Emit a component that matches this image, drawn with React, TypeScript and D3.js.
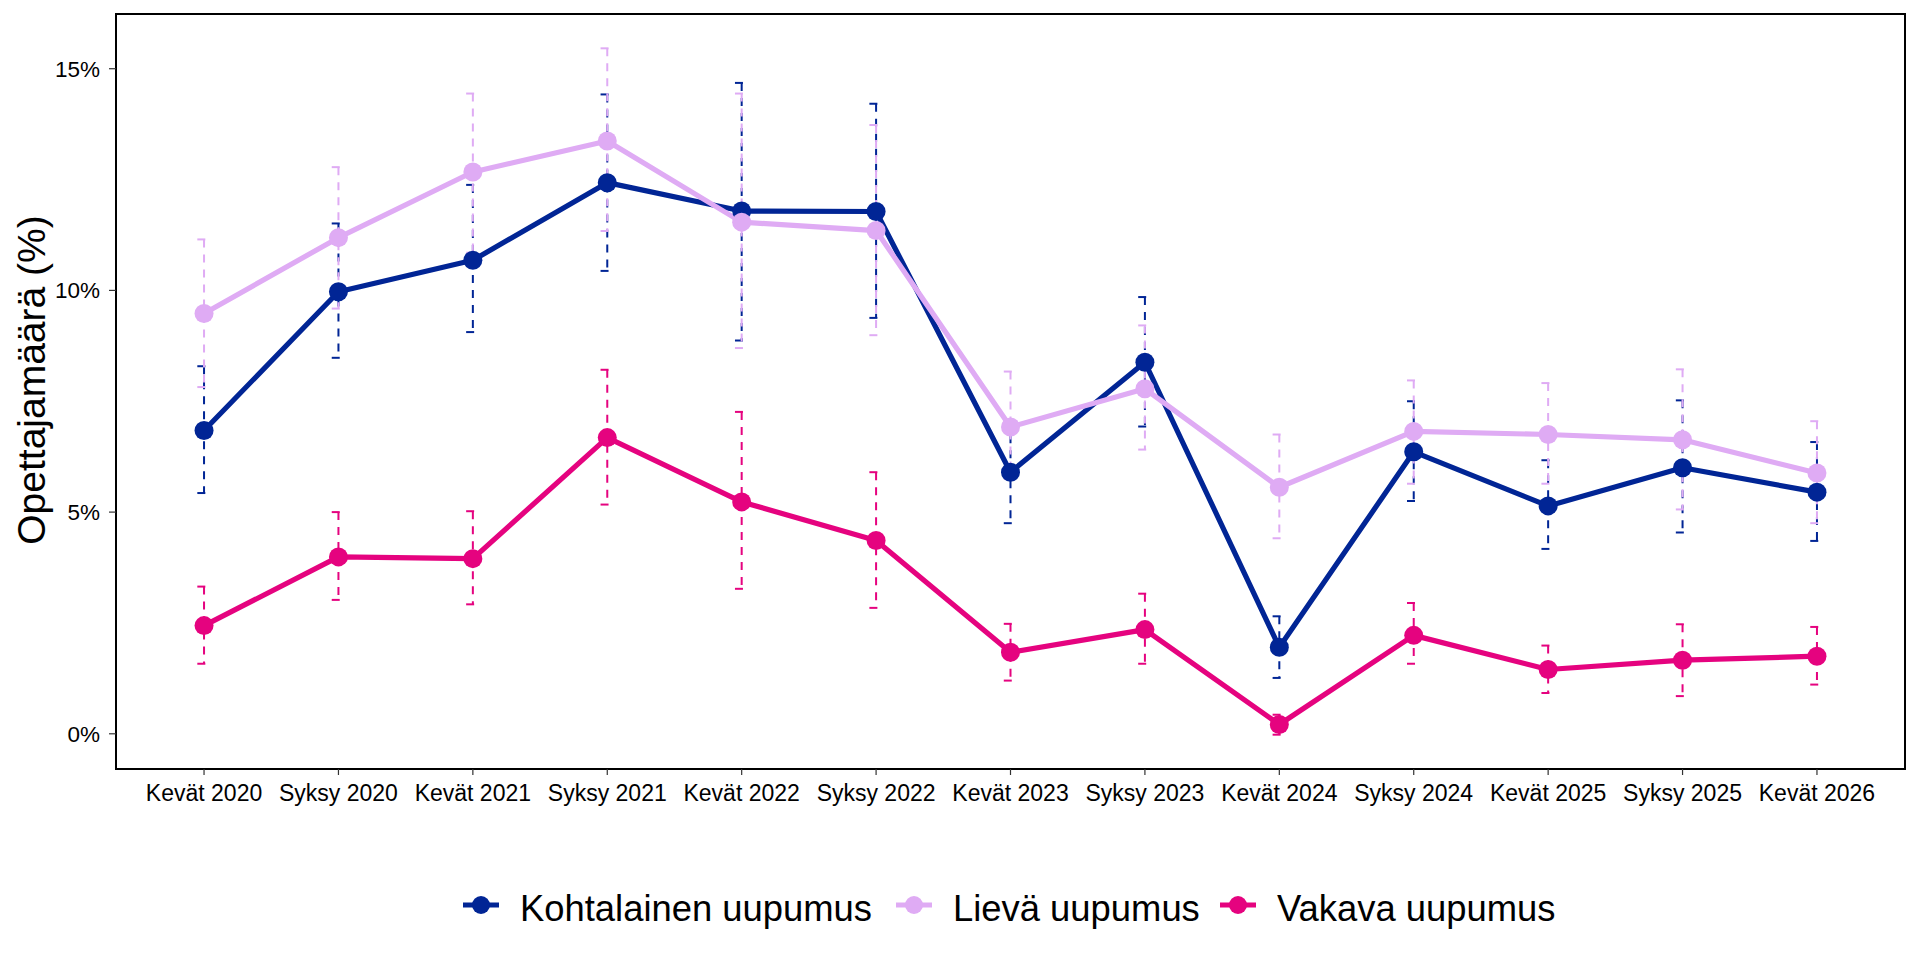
import React from "react";
import * as d3 from "d3";

// periods on the x axis
const periods = [
  "Kevät 2020", "Syksy 2020", "Kevät 2021", "Syksy 2021", "Kevät 2022",
  "Syksy 2022", "Kevät 2023", "Syksy 2023", "Kevät 2024", "Syksy 2024",
  "Kevät 2025", "Syksy 2025", "Kevät 2026",
];

const seriesNames = ["Kohtalainen uupumus", "Lievä uupumus", "Vakava uupumus"];
const seriesColors = ["#012595", "#DFABF4", "#E5037F"];

// values in % (estimate, lower CI, upper CI)
const kohtalainen = [6.84, 9.97, 10.68, 12.43, 11.79, 11.78, 5.9, 8.38, 1.95, 6.36, 5.14, 6.0, 5.45];
const kohtalainenLow = [5.43, 8.48, 9.06, 10.44, 8.87, 9.38, 4.75, 6.93, 1.26, 5.25, 4.17, 4.54, 4.35];
const kohtalainenHigh = [8.29, 11.51, 12.38, 14.42, 14.68, 14.21, 7.07, 9.85, 2.65, 7.5, 6.17, 7.52, 6.58];

const lieva = [9.48, 11.19, 12.67, 13.37, 11.54, 11.35, 6.92, 7.78, 5.56, 6.82, 6.75, 6.63, 5.88];
const lievaLow = [7.82, 9.59, 10.85, 11.34, 8.7, 8.99, 5.75, 6.41, 4.41, 5.64, 5.64, 5.06, 4.75];
const lievaHigh = [11.15, 12.78, 14.44, 15.46, 14.44, 13.73, 8.17, 9.21, 6.75, 7.97, 7.91, 8.22, 7.05];

const vakava = [2.44, 3.99, 3.95, 6.68, 5.23, 4.36, 1.84, 2.35, 0.21, 2.22, 1.45, 1.66, 1.75];
const vakavaLow = [1.58, 3.02, 2.92, 5.17, 3.27, 2.84, 1.2, 1.58, -0.02, 1.58, 0.92, 0.85, 1.11];
const vakavaHigh = [3.32, 5.0, 5.02, 8.21, 7.26, 5.9, 2.48, 3.16, 0.43, 2.95, 1.99, 2.47, 2.41];

const yTicks = [0, 5, 10, 15];

const W = 1920;
const H = 960;
const margin = { top: 14, right: 15, bottom: 191, left: 116 };
const FONT = "'Liberation Sans', Arial, sans-serif";

type Row = { period: string; value: number; low: number; high: number };

const series = [
  { values: kohtalainen, low: kohtalainenLow, high: kohtalainenHigh },
  { values: lieva, low: lievaLow, high: lievaHigh },
  { values: vakava, low: vakavaLow, high: vakavaHigh },
].map((s, i) => ({
  name: seriesNames[i],
  color: seriesColors[i],
  rows: periods.map((p, j) => ({ period: p, value: s.values[j], low: s.low[j], high: s.high[j] })) as Row[],
}));

// legend key centres (legend is centred below the panel)
const legendKeyX = [481, 914, 1238];

const App: React.FC = () => {
  const x = d3
    .scalePoint<string>()
    .domain(periods)
    .range([margin.left, W - margin.right])
    .padding(0.655);

  const allLow = d3.min(series, (s) => d3.min(s.rows, (r) => r.low)) ?? 0;
  const allHigh = d3.max(series, (s) => d3.max(s.rows, (r) => r.high)) ?? 1;
  const pad = (allHigh - allLow) * 0.05;
  const y = d3
    .scaleLinear()
    .domain([allLow - pad, allHigh + pad])
    .range([H - margin.bottom, margin.top]);

  const line = d3
    .line<Row>()
    .x((d) => x(d.period) ?? 0)
    .y((d) => y(d.value));

  const capHalf = x.step() * 0.05;
  const panelRight = W - margin.right;
  const panelBottom = H - margin.bottom;

  return (
    <svg
      width={W}
      height={H}
      style={{ position: "absolute", left: 0, top: 0, background: "#fff" }}
      fontFamily={FONT}
    >
      <rect x={0} y={0} width={W} height={H} fill="#fff" />

      {/* error bars */}
      {series.map((s) => (
        <g key={"eb" + s.name} stroke={s.color} strokeWidth={2} strokeDasharray="8 7" fill="none">
          {s.rows.map((r) => {
            const cx = x(r.period) ?? 0;
            return (
              <g key={r.period}>
                <line x1={cx - capHalf} x2={cx + capHalf} y1={y(r.high)} y2={y(r.high)} />
                <line x1={cx} x2={cx} y1={y(r.high)} y2={y(r.low)} />
                <line x1={cx - capHalf} x2={cx + capHalf} y1={y(r.low)} y2={y(r.low)} />
              </g>
            );
          })}
        </g>
      ))}

      {/* lines */}
      {series.map((s) => (
        <path
          key={"ln" + s.name}
          d={line(s.rows) ?? ""}
          fill="none"
          stroke={s.color}
          strokeWidth={5.2}
          strokeLinejoin="round"
        />
      ))}

      {/* points */}
      {series.map((s) => (
        <g key={"pt" + s.name} fill={s.color}>
          {s.rows.map((r) => (
            <circle key={r.period} cx={x(r.period)} cy={y(r.value)} r={9.5} />
          ))}
        </g>
      ))}

      {/* panel border */}
      <rect
        x={margin.left}
        y={margin.top}
        width={panelRight - margin.left}
        height={panelBottom - margin.top}
        fill="none"
        stroke="#000"
        strokeWidth={2}
      />

      {/* y axis */}
      {yTicks.map((t) => (
        <g key={"yt" + t}>
          <line x1={margin.left - 7} x2={margin.left} y1={y(t)} y2={y(t)} stroke="#333" strokeWidth={1.2} />
          <text x={margin.left - 16} y={y(t) + 8} textAnchor="end" fontSize={22.5} fill="#000">
            {t}%
          </text>
        </g>
      ))}
      <text
        transform={`translate(45,380) rotate(-90)`}
        textAnchor="middle"
        fontSize={39}
        fill="#000"
      >
        Opettajamäärä (%)
      </text>

      {/* x axis */}
      {periods.map((p) => (
        <g key={"xt" + p}>
          <line x1={x(p)} x2={x(p)} y1={panelBottom} y2={panelBottom + 6} stroke="#333" strokeWidth={1.2} />
          <text x={x(p)} y={panelBottom + 32} textAnchor="middle" fontSize={23} fill="#000">
            {p}
          </text>
        </g>
      ))}

      {/* legend */}
      {series.map((s, i) => (
        <g key={"lg" + s.name}>
          <line
            x1={legendKeyX[i] - 18}
            x2={legendKeyX[i] + 18}
            y1={905}
            y2={905}
            stroke={s.color}
            strokeWidth={5}
          />
          <circle cx={legendKeyX[i]} cy={905} r={9} fill={s.color} />
          <text x={legendKeyX[i] + 39} y={921} fontSize={36.4} fill="#000">
            {s.name}
          </text>
        </g>
      ))}
    </svg>
  );
};

export default App;
